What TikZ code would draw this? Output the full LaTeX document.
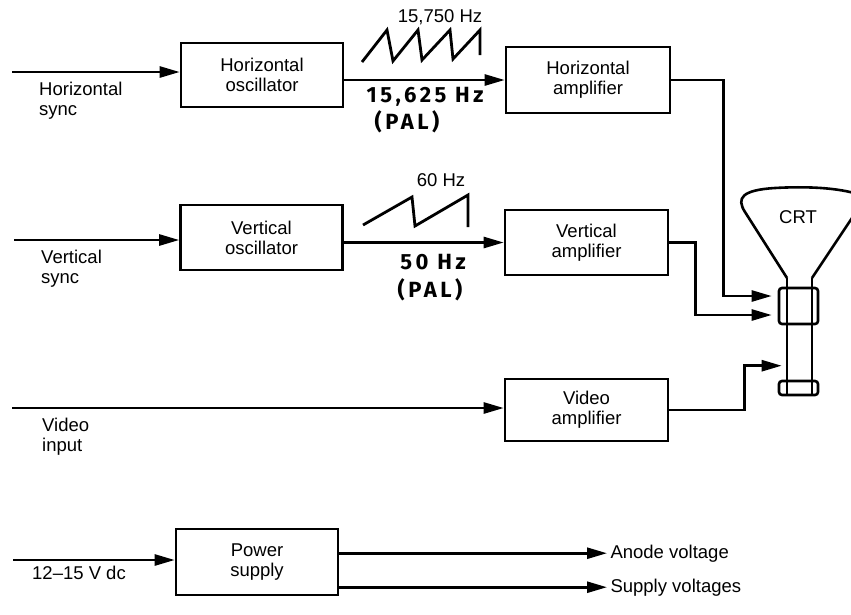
\documentclass[tikz,border=0pt]{standalone}
\usepackage{fontspec}
\setmainfont{Liberation Sans}
\newfontfamily\handfont[LetterSpace=16]{Fira Sans}
\usepackage{tikz}
\usetikzlibrary{arrows.meta,positioning,calc}

\newcommand\dtext{\fontsize{18.5}{20}\selectfont}

\begin{document}
\begin{tikzpicture}[x=1pt,y=-1pt,>={Triangle[length=20pt,width=11pt]},
						block/.style={draw, line width=2.6pt, minimum width=162pt, minimum height=64pt, align=center, font=\dtext},
						sig/.style={->, line width=2.6pt},
						saw/.style={line width=2.8pt, line join=miter},
						lbl/.style={align=left, inner sep=0pt, font=\dtext},
						hand/.style={font=\handfont\bfseries\fontsize{22}{24}\selectfont},
						tube/.style={line width=2.6pt}]

						\useasboundingbox (0,0) rectangle (851,614);

						%%% Horizontal channel
						\node at (262,75) [block] (hosc) {Horizontal\\oscillator};
						\node at (588,80) [block, minimum width=164pt, minimum height=66pt] (hamp) {Horizontal\\amplifier};
						\coordinate (hsync) at (12,72);
						\node [lbl, below right=10pt and 27pt of hsync] (hsynclbl) {Horizontal\\sync};
						\draw [sig] (hsync) -- (hsync -| hosc.west);
						\draw [sig] (hosc.east |- hamp.west) -- (hamp.west);
						\draw [saw] (362,62) -- (387,30) -- (393,61) -- (418,30) -- (422,60) -- (450,30) -- (453,59) -- (480,30) -- (480,55);
						\node at (440,17) [font=\dtext] (hfreq) {15,750 Hz};
						\node at (425,97) [hand] (hpal) {15,625 Hz};
						\node at (407,122) [hand] (hpaltag) {(PAL)};

						%%% Vertical channel
						\node at (261.5,237.5) [block, minimum height=65pt] (vosc) {Vertical\\oscillator};
						\node at (586.5,242.5) [block, minimum width=163pt, minimum height=65pt] (vamp) {Vertical\\amplifier};
						\coordinate (vsync) at (14,240);
						\node [lbl, below right=10pt and 27pt of vsync] (vsynclbl) {Vertical\\sync};
						\draw [sig] (vsync) -- (vsync -| vosc.west);
						\draw [sig] (vosc.east |- vamp.west) -- (vamp.west);
						\draw [saw] (363,225) -- (412,197) -- (415,226) -- (468,195) -- (468,227);
						\node at (441,180) [font=\dtext] (vfreq) {60 Hz};
						\node at (433,262) [hand] (vpal) {50 Hz};
						\node at (430,290) [hand] (vpaltag) {(PAL)};

						%%% Video channel
						\node at (586.5,410) [block, minimum width=163pt, minimum height=62pt] (vidamp) {Video\\amplifier};
						\coordinate (vidin) at (12,408);
						\node [lbl, below right=10pt and 30pt of vidin] (vidinlbl) {Video\\input};
						\draw [sig] (vidin) -- (vidin -| vidamp.west);

						%%% CRT
						\draw [tube] (787,278) -- (745,212) .. controls (736,198) and (742,190) .. (775,188)
							.. controls (810,186) and (845,188) .. (866,197) -- (812,278);
						\draw [tube] (787,278) -- (787,395);
						\draw [tube] (812,278) -- (812,395);
						\node at (798.5,306) [draw, tube, rounded corners=3pt, minimum width=39pt, minimum height=36pt, inner sep=0pt] (yoke) {};
						\node at (798.5,388) [draw, tube, rounded corners=3pt, minimum width=39pt, minimum height=14pt, inner sep=0pt] (socket) {};
						\node at (798,217) [font=\dtext] (crtlbl) {CRT};
						\coordinate (hdefl) at ($(yoke.west)+(-6,-10)$);
						\coordinate (vdefl) at ($(yoke.west)+(-6,9)$);
						\coordinate (grid) at ($(socket.north west)+(4,-14)$);
						\draw [sig] (hamp.east) -- ++(52,0) |- (hdefl);
						\draw [sig] (vamp.east) -- ++(26,0) |- (vdefl);
						\draw [sig] (vidamp.east) -- ++(75,0) |- (grid);

						%%% Power supply
						\node at (257,562) [block, minimum height=66pt] (psu) {Power\\supply};
						\coordinate (dcin) at (13,560);
						\node [lbl, below right=6pt and 19pt of dcin] (dcinlbl) {12--15 V dc};
						\draw [sig] (dcin) -- (dcin -| psu.west);
						\node [anchor=base west, font=\dtext] at (607,558) (anode) {Anode voltage};
						\node [anchor=base west, font=\dtext] at (607,592) (supply) {Supply voltages};
						\draw [sig] (anode.west -| psu.east) -- (anode.west);
						\draw [sig] (supply.west -| psu.east) -- (supply.west);
					\end{tikzpicture}
\end{document}
